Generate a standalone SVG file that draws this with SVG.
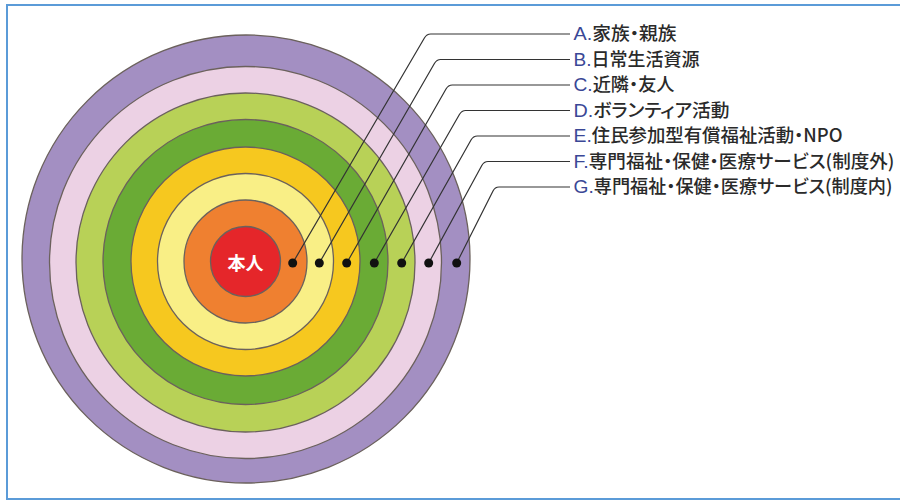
<svg xmlns="http://www.w3.org/2000/svg" width="900" height="501" viewBox="0 0 900 501">
<style>
.ring{stroke:#6b615c;stroke-width:1.3}
.lead{fill:none;stroke:#333;stroke-width:1.2}
.dot{fill:#111}
.lbl{font-family:"Noto Sans CJK JP","Noto Sans",sans-serif;font-size:18px;font-weight:500;fill:#2a2a2a;font-feature-settings:"palt";}
.ltr{fill:#3a4796;font-family:"Liberation Sans","Noto Sans",sans-serif;font-size:19px;font-weight:normal}
.self{font-family:"Noto Sans CJK JP",sans-serif;font-size:18px;font-weight:bold;fill:#fff}
</style>
<rect x="0" y="0" width="900" height="501" fill="#fff"/>
<rect x="7" y="5" width="905" height="494" fill="none" stroke="#5b9bd8" stroke-width="2"/>
<g id="ring-G"><circle class="ring" cx="246" cy="259" r="224" fill="#a38fc2"/></g>
<g id="ring-F"><circle class="ring" cx="245.5" cy="262.5" r="196" fill="#ecd1e4"/></g>
<g id="ring-E"><circle class="ring" cx="245.5" cy="262.5" r="169.5" fill="#b8d157"/></g>
<g id="ring-D"><circle class="ring" cx="245.5" cy="262" r="142.5" fill="#6aab35"/></g>
<g id="ring-C"><circle class="ring" cx="245.5" cy="261.5" r="114.5" fill="#f6c81f"/></g>
<g id="ring-B"><circle class="ring" cx="245.5" cy="261.5" r="88" fill="#f9ef86"/></g>
<g id="ring-A"><circle class="ring" cx="245.5" cy="261.5" r="61.5" fill="#ef8030"/></g>
<g id="self"><circle class="ring" cx="245.5" cy="261.5" r="35" fill="#e5262a"/>
<text class="self" x="245.5" y="269.5" text-anchor="middle">本人</text></g>
<g id="connectors">
<path class="lead" d="M292.7,263 L424.4,38 Q426.7,34 430.7,34 H570"/>
<path class="lead" d="M319.3,263 L434.4,63.5 Q436.7,59.5 440.7,59.5 H570"/>
<path class="lead" d="M346.7,263 L446,89 Q448.3,85 452.3,85 H570"/>
<path class="lead" d="M374.3,263 L459.4,114.5 Q461.7,110.5 465.7,110.5 H570"/>
<path class="lead" d="M401.7,263 L471,140 Q473.3,136 477.3,136 H570"/>
<path class="lead" d="M428.7,263 L481.8,165.5 Q484,161.5 488,161.5 H570"/>
<path class="lead" d="M456.7,263 L493,191 Q495,187 499,187 H570"/>
<circle class="dot" cx="292.7" cy="263" r="4.5"/>
<circle class="dot" cx="319.3" cy="263" r="4.5"/>
<circle class="dot" cx="346.7" cy="263" r="4.5"/>
<circle class="dot" cx="374.3" cy="263" r="4.5"/>
<circle class="dot" cx="401.7" cy="263" r="4.5"/>
<circle class="dot" cx="428.7" cy="263" r="4.5"/>
<circle class="dot" cx="456.7" cy="263" r="4.5"/>
</g>
<g id="label-A"><text class="lbl" x="573.5" y="40.4" textLength="103" lengthAdjust="spacingAndGlyphs"><tspan class="ltr">A.</tspan>家族・親族</text></g>
<g id="label-B"><text class="lbl" x="573.5" y="65.9" textLength="126" lengthAdjust="spacingAndGlyphs"><tspan class="ltr">B.</tspan>日常生活資源</text></g>
<g id="label-C"><text class="lbl" x="573.5" y="91.4" textLength="101" lengthAdjust="spacingAndGlyphs"><tspan class="ltr">C.</tspan>近隣・友人</text></g>
<g id="label-D"><text class="lbl" x="573.5" y="116.9" textLength="156" lengthAdjust="spacingAndGlyphs"><tspan class="ltr">D.</tspan>ボランティア活動</text></g>
<g id="label-E"><text class="lbl" x="573.5" y="142.4" textLength="269" lengthAdjust="spacingAndGlyphs"><tspan class="ltr">E.</tspan>住民参加型有償福祉活動・NPO</text></g>
<g id="label-F"><text class="lbl" x="573.5" y="167.9" textLength="321" lengthAdjust="spacingAndGlyphs"><tspan class="ltr">F.</tspan>専門福祉・保健・医療サービス(制度外)</text></g>
<g id="label-G"><text class="lbl" x="573.5" y="193.4" textLength="319" lengthAdjust="spacingAndGlyphs"><tspan class="ltr">G.</tspan>専門福祉・保健・医療サービス(制度内)</text></g>
</svg>
